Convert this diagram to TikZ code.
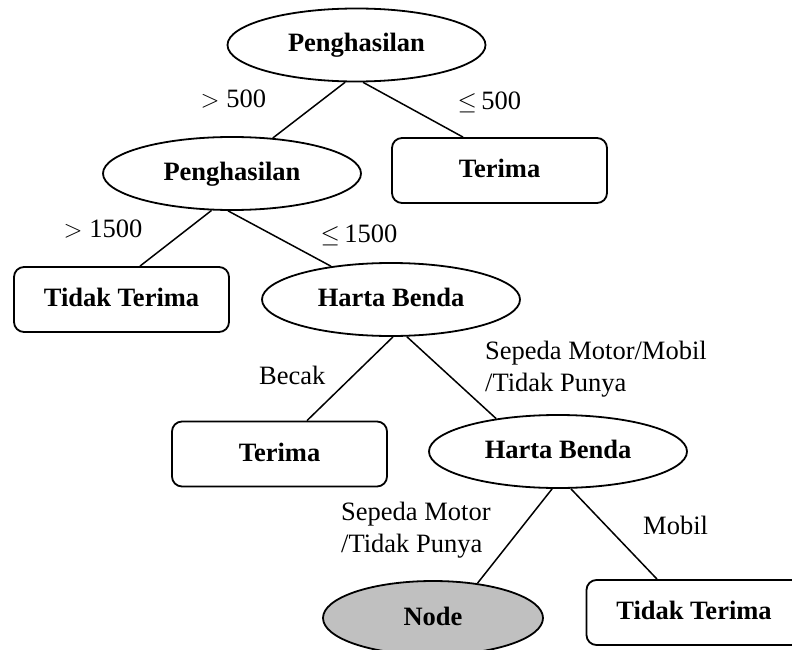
\documentclass[tikz,border=0pt]{standalone}
\usepackage{fontspec}
\setmainfont{Liberation Serif}
\usetikzlibrary{shapes.geometric}

\begin{document}
\begin{tikzpicture}[x=1pt,y=-1pt,
  every node/.style={font=\fontsize{26.5}{32}\selectfont},
  split/.style={draw,ellipse,line width=1.8pt,inner sep=0pt,
    minimum width=258pt,minimum height=73pt,
    font=\fontsize{26.5}{32}\selectfont\bfseries,
    text height=18.5pt,text depth=4.5pt},
  leaf/.style={draw,rectangle,rounded corners=10pt,line width=1.8pt,
    inner sep=0pt,minimum width=215pt,minimum height=65pt,
    font=\fontsize{26.5}{32}\selectfont\bfseries,
    text height=18.5pt,text depth=4.5pt},
  branch/.style={line width=1.5pt},
  cond/.style={anchor=base west,inner sep=0pt}
]
\useasboundingbox (0,0) rectangle (792,650);

% decision nodes
\node[split] (p1)  at (356.5,45)  {Penghasilan};
\node[split] (p2)  at (232,173.5) {Penghasilan};
\node[split] (hb1) at (391,299.5) {Harta Benda};
\node[split] (hb2) at (558,451.5) {Harta Benda};
\node[split,fill={rgb,255:red,192;green,192;blue,192},minimum width=220pt,minimum height=74pt] (nd) at (433,618) {Node};

% leaves
\node[leaf] (t1)  at (499.5,170.5) {Terima};
\node[leaf] (tt1) at (121.5,299.5) {Tidak Terima};
\node[leaf] (t2)  at (279.5,454)   {Terima};
\node[leaf] (tt2) at (694,612.5)   {Tidak Terima};

% branches
\draw[branch] (p1.253) -- (p2.41);
\draw[branch] (p1.280) -- ([xshift=-36.5pt]t1.north);
\draw[branch] (p2.241) -- ([xshift=18.5pt]tt1.north);
\draw[branch] (p2.264) -- (hb1.151);
\draw[branch] (hb1.273) -- ([xshift=27.5pt]t2.north);
\draw[branch] (hb1.293) -- (hb2.152);
\draw[branch] (hb2.261) -- (nd.38);
\draw[branch] (hb2.289) -- ([xshift=-37pt]tt2.north);

% branch conditions
\node[cond] (c1) at (200.5,108) {$>$ 500};
\node[cond] (c2) at (457.5,110) {$\leq$\,500};
\node[cond] (c3) at (63.5,237)  {$>$ 1500};
\node[cond] (c4) at (320.5,242) {$\leq$\,1500};
\node[cond] (c5) at (259,384) {Becak};
\node[cond] (c6) at (485,359) {\begin{tabular}[t]{@{}l@{}}Sepeda Motor/Mobil\\/Tidak Punya\end{tabular}};
\node[cond] (c7) at (341,520) {\begin{tabular}[t]{@{}l@{}}Sepeda Motor\\/Tidak Punya\end{tabular}};
\node[cond] (c8) at (643,534) {Mobil};
\end{tikzpicture}
\end{document}
